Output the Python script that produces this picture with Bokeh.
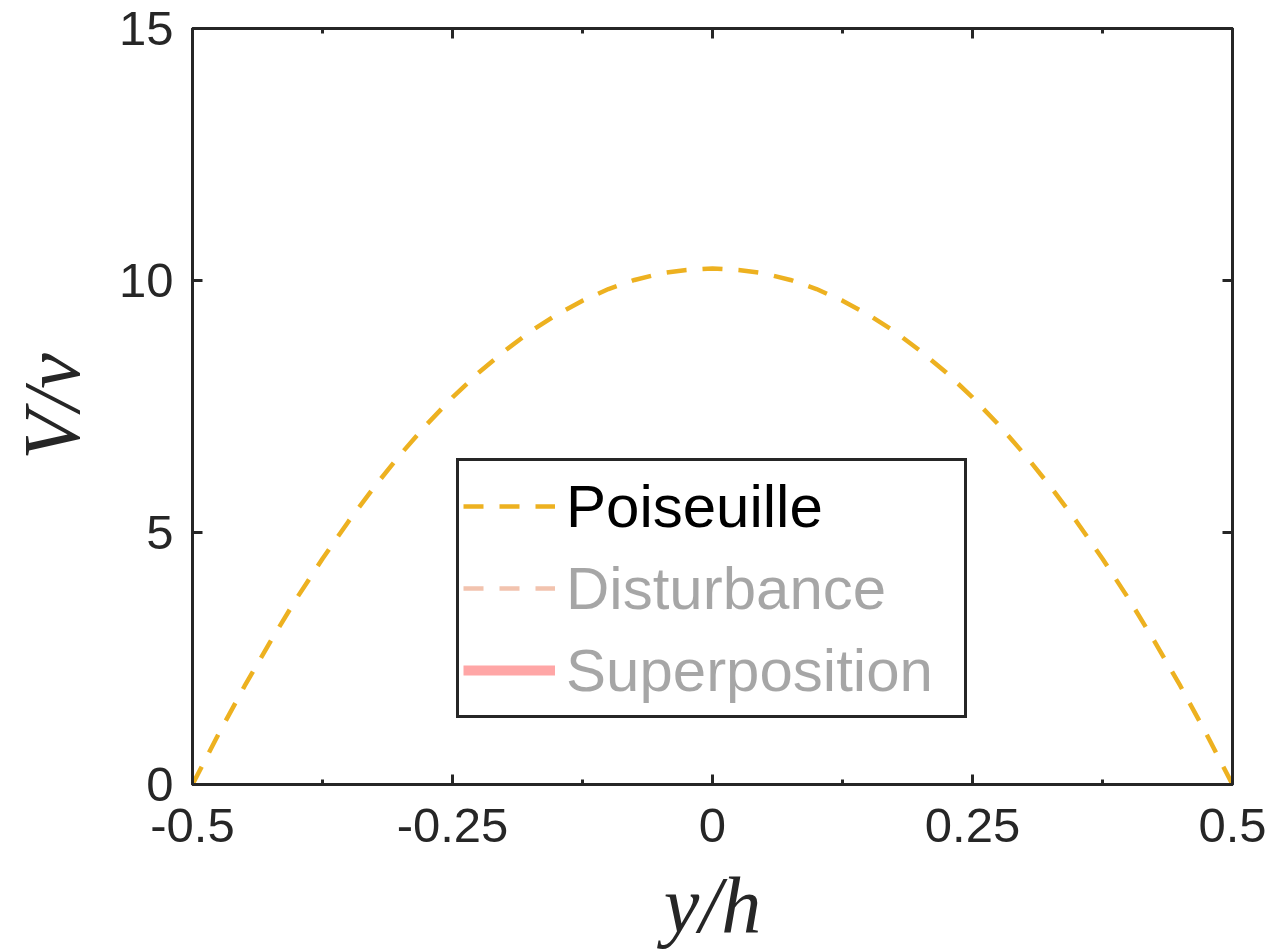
from bokeh.plotting import figure
from bokeh.models import (FixedTicker, LinearAxis, Legend, LegendItem, Range1d,
                          ColumnDataSource)
from bokeh.embed import file_html
from bokeh.resources import INLINE

# ---- data ----
y_over_h = [-0.5, -0.475, -0.45, -0.425, -0.4, -0.375, -0.35, -0.325, -0.3, -0.275,
            -0.25, -0.225, -0.2, -0.175, -0.15, -0.125, -0.1, -0.075, -0.05, -0.025,
            0.0, 0.025, 0.05, 0.075, 0.1, 0.125, 0.15, 0.175, 0.2, 0.225,
            0.25, 0.275, 0.3, 0.325, 0.35, 0.375, 0.4, 0.425, 0.45, 0.475, 0.5]
poiseuille_v = [0.0, 1.00, 1.95, 2.84, 3.69, 4.48, 5.22, 5.91, 6.55, 7.14,
                7.68, 8.17, 8.60, 8.99, 9.32, 9.60, 9.83, 10.01, 10.14, 10.21,
                10.24, 10.21, 10.14, 10.01, 9.83, 9.60, 9.32, 8.99, 8.60, 8.17,
                7.68, 7.14, 6.55, 5.91, 5.22, 4.48, 3.69, 2.84, 1.95, 1.00, 0.0]
# hidden series (not drawn in the plot, listed in the legend only):
# no disturbance visible, so superposition equals the Poiseuille profile
disturbance_y = [-0.5, 0.0, 0.5]
disturbance_v = [0.0, 0.0, 0.0]
superposition_y = y_over_h
superposition_v = poiseuille_v

series_names = ["Poiseuille", "Disturbance", "Superposition"]
x_label = "y/h"
y_label = "V/v"

x_ticks = [-0.5, -0.25, 0, 0.25, 0.5]
x_tick_labels = ["-0.5", "-0.25", "0", "0.25", "0.5"]
x_minor_ticks = [-0.375, -0.125, 0.125, 0.375]
y_ticks = [0, 5, 10, 15]
y_tick_labels = ["0", "5", "10", "15"]

AX = "#262626"

p = figure(width=1288, height=952, output_backend="svg", toolbar_location=None,
           x_range=Range1d(-0.5, 0.5), y_range=Range1d(0, 15),
           x_axis_location=None, y_axis_location=None,
           min_border_left=192, min_border_right=56,
           min_border_top=28, min_border_bottom=168)
p.grid.visible = False
p.outline_line_color = AX
p.outline_line_width = 3
p.background_fill_color = "white"
p.border_fill_color = "white"


def style_axis(ax, show_labels):
    ax.axis_line_color = AX
    ax.axis_line_width = 3
    ax.major_tick_in = 10
    ax.major_tick_out = 0
    ax.minor_tick_in = 5
    ax.minor_tick_out = 0
    ax.major_tick_line_color = AX
    ax.major_tick_line_width = 3
    ax.minor_tick_line_color = AX
    ax.minor_tick_line_width = 3
    if show_labels:
        ax.major_label_text_font = "Liberation Sans"
        ax.major_label_text_font_size = "49px"
        ax.major_label_text_color = AX
    else:
        ax.major_label_text_font_size = "1px"
        ax.major_label_text_color = None
        ax.major_label_standoff = 0


xb = LinearAxis(ticker=FixedTicker(ticks=x_ticks, minor_ticks=x_minor_ticks),
                major_label_overrides=dict(zip(x_ticks, x_tick_labels)))
style_axis(xb, True)
xb.major_label_standoff = 24
xb.axis_label = x_label
xb.axis_label_text_font = "Liberation Serif"
xb.axis_label_text_font_style = "italic"
xb.axis_label_text_font_size = "80px"
xb.axis_label_text_color = AX
xb.axis_label_standoff = 16
p.add_layout(xb, "below")

xt = LinearAxis(ticker=FixedTicker(ticks=x_ticks, minor_ticks=x_minor_ticks))
style_axis(xt, False)
p.add_layout(xt, "above")

yl = LinearAxis(ticker=FixedTicker(ticks=y_ticks, minor_ticks=[]),
                major_label_overrides=dict(zip(y_ticks, y_tick_labels)))
style_axis(yl, True)
yl.major_label_standoff = 19
yl.axis_label = y_label
yl.axis_label_text_font = "Liberation Serif"
yl.axis_label_text_font_style = "italic"
yl.axis_label_text_font_size = "80px"
yl.axis_label_text_color = AX
yl.axis_label_standoff = 20
p.add_layout(yl, "left")

yr = LinearAxis(ticker=FixedTicker(ticks=y_ticks, minor_ticks=[]))
style_axis(yr, False)
p.add_layout(yr, "right")

src_p = ColumnDataSource(dict(x=y_over_h, y=poiseuille_v))
src_d = ColumnDataSource(dict(x=disturbance_y, y=disturbance_v))
src_s = ColumnDataSource(dict(x=superposition_y, y=superposition_v))

r_p = p.line("x", "y", source=src_p, line_color="#EDB120", line_width=4.5,
             line_dash="20 16")
r_d = p.line("x", "y", source=src_d, line_color="#D95319", line_width=4.5,
             line_dash="20 16")
r_s = p.line("x", "y", source=src_s, line_color="#FF0000", line_width=10)
r_d.visible = False
r_s.visible = False

legend = Legend(items=[LegendItem(label=series_names[0], renderers=[r_p]),
                       LegendItem(label=series_names[1], renderers=[r_d]),
                       LegendItem(label=series_names[2], renderers=[r_s])],
                location=(264, 66), click_policy="hide",
                inactive_fill_color="white", inactive_fill_alpha=0.65,
                border_line_color=AX, border_line_width=3, border_line_alpha=1.0,
                background_fill_color="white", background_fill_alpha=1.0,
                padding=4, spacing=0, margin=0,
                glyph_width=92, glyph_height=82, label_height=82,
                label_width=394, label_standoff=11,
                label_text_font="Liberation Sans", label_text_font_size="60px",
                label_text_color="black")
p.add_layout(legend, "center")

open("out.html", "w").write(file_html(p, INLINE))
